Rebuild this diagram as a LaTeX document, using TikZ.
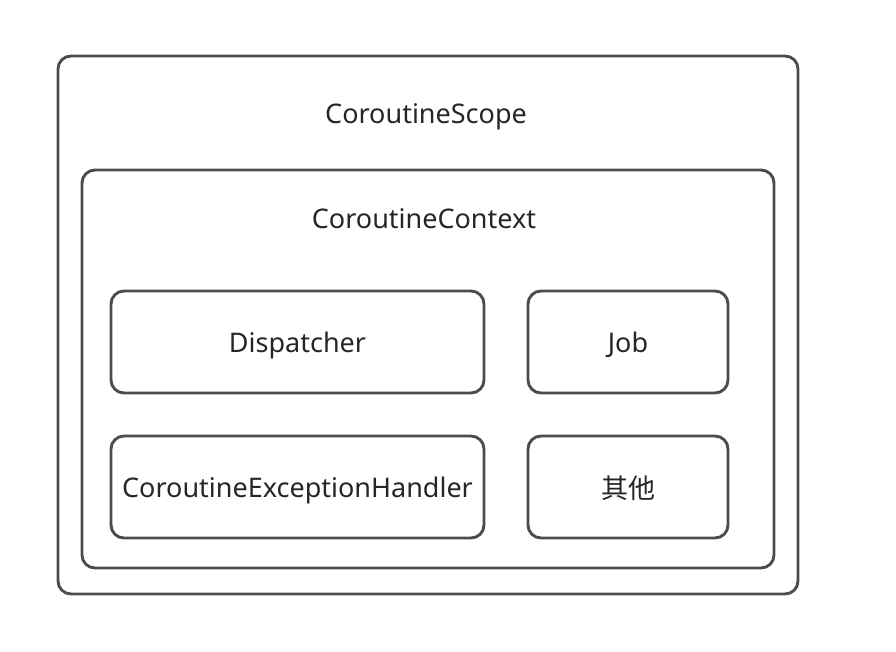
\documentclass[tikz,border=0pt]{standalone}
\usepackage{fontspec}
\setmainfont{Noto Sans}
\newfontfamily\cjk{Noto Sans CJK SC}
\begin{document}
\begin{tikzpicture}[x=1pt,y=-1pt,
  box/.style={draw=black!70,line width=2.9pt,rounded corners=13pt},
  lbl/.style={font=\fontsize{27}{30}\selectfont,text=black!85}]
\useasboundingbox (0,0) rectangle (896,652);
\draw[box] (58,56) rectangle (798,594);
\node[lbl] (scope) at (426,117) {CoroutineScope};
\draw[box] (82,170) rectangle (774,568);
\node[lbl] (ctx) at (424,219) {CoroutineContext};
\draw[box] (111,291) rectangle (484,393);
\node[lbl] (disp) at (297.5,345) {Dispatcher};
\draw[box] (528,291) rectangle (728,393);
\node[lbl] (job) at (628,345) {Job};
\draw[box] (111,436) rectangle (484,538);
\node[lbl] (ceh) at (297.5,490) {CoroutineExceptionHandler};
\draw[box] (528,436) rectangle (728,538);
\node[lbl] (other) at (628,488) {\cjk 其他};
\end{tikzpicture}
\end{document}
